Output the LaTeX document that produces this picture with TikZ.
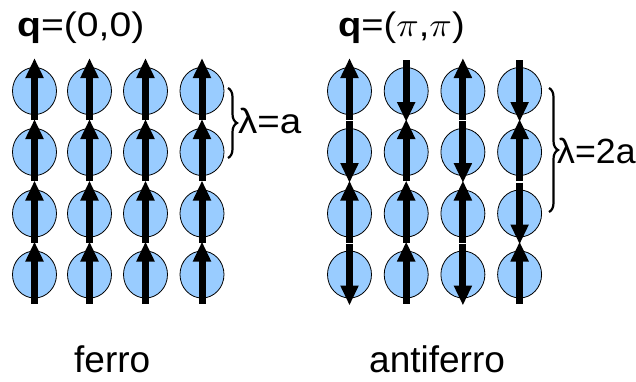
\documentclass[tikz,border=0pt]{standalone}
\usepackage{fix-cm}
\usepackage{fontspec}
\setmainfont{Liberation Sans}
\usetikzlibrary{arrows.meta,decorations.pathreplacing,shapes.geometric,calc}
\definecolor{spinblue}{RGB}{153,204,255}
\begin{document}
\begin{tikzpicture}[x=1bp,y=-1bp,
  site/.style={ellipse,draw=black,line width=0.8bp,fill=spinblue,
    minimum width=44bp,minimum height=47bp,inner sep=0pt},
  spin/.style={line width=7bp,-{Triangle[length=20bp,width=17bp]}},
  curly/.style={decorate,decoration={brace,amplitude=9bp},line width=2.2bp},
  heading/.style={inner sep=0pt,anchor=base west,font=\fontsize{34bp}{38bp}\selectfont},
  wavelen/.style={inner sep=0pt,anchor=base west,font=\fontsize{35bp}{38bp}\selectfont},
  caption/.style={inner sep=0pt,anchor=base west,font=\fontsize{37bp}{40bp}\selectfont}]
\useasboundingbox (0,0) rectangle (636,381);

% ferromagnetic lattice
\foreach \c/\x in {1/34.5,2/89.5,3/145.5,4/202}{
  \foreach \r/\y in {1/91,2/152,3/213.5,4/274.5}{
    \node[site] (f\r\c) at (\x,\y) {};
    \draw[spin] ($(f\r\c.center)+(0,29)$) -- ($(f\r\c.center)+(0,-33)$);
  }
}

% antiferromagnetic lattice: 1 = up, 0 = down
\foreach \r/\y/\pattern in {1/91/{1,0,1,0},2/152/{0,1,0,1},3/213.5/{1,1,1,0},4/274.5/{0,1,0,1}}{
  \foreach \s [count=\c] in \pattern{
    \pgfmathsetmacro{\xx}{349.5+56.7*(\c-1)}
    \node[site] (a\r\c) at (\xx,\y) {};
    \ifnum\s=1
      \draw[spin] ($(a\r\c.center)+(0,29)$) -- ($(a\r\c.center)+(0,-33)$);
    \else
      \draw[spin] ($(a\r\c.center)+(0,-31)$) -- ($(a\r\c.center)+(0,31)$);
    \fi
  }
}

% wave vectors
\node[heading] (qf) at (17,36) {\scalebox{1.15}[1]{\textbf{q}=(0,0)}};
\node[heading] (qa) at (338,36) {\scalebox{1.12}[1]{\textbf{q}=($\pi$,$\pi$)}};

% wavelength braces
\coordinate (bf1) at (228,88);
\coordinate (bf2) at (228,158);
\draw[curly] (bf1) -- (bf2);
\node[wavelen] (lf) at (238,133) {\scalebox{1.1}[1]{λ=a}};

\coordinate (ba1) at (549,88);
\coordinate (ba2) at (549,212);
\draw[curly] (ba1) -- (ba2);
\node[wavelen] (la) at (557,163) {\scalebox{1.02}[1]{λ=2a}};

% captions
\node[caption] (cf) at (74,372) {ferro};
\node[caption] (ca) at (369,372) {antiferro};
\end{tikzpicture}
\end{document}
